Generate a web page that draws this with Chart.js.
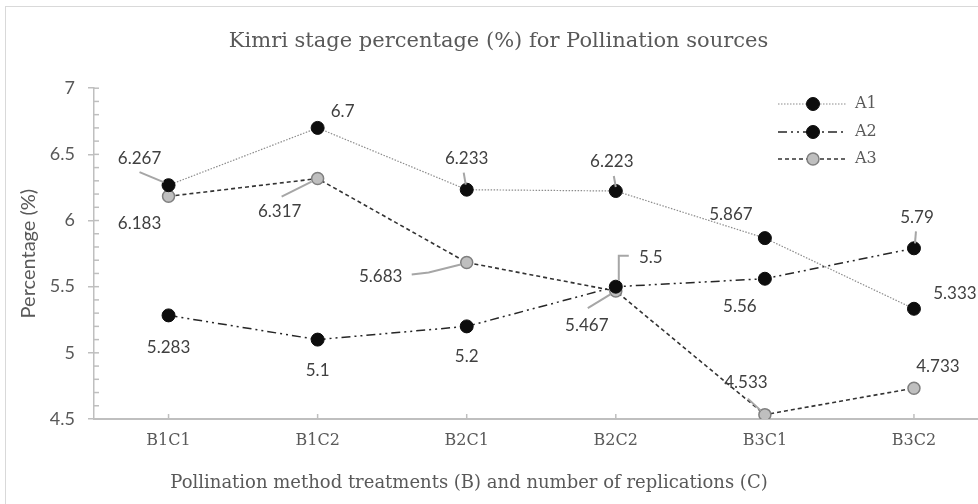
<!DOCTYPE html>
<html>
<head>
<meta charset="utf-8">
<script src="https://cdn.jsdelivr.net/npm/chart.js@4/dist/chart.umd.min.js"></script>
<style>
    html, body { margin: 0; padding: 0; background: #ffffff; overflow: hidden; }
    #box {
        position: absolute;
        left: 5px;
        top: 6px;
        width: 990px;
        height: 520px;
        border: 1px solid #d9d9d9;
    }
</style>
</head>
<body>
<div id="box"><canvas id="kimriChart" width="990" height="520"></canvas></div>
<script>
// Données
var categories = ['B1C1', 'B1C2', 'B2C1', 'B2C2', 'B3C1', 'B3C2'];
var seriesNames = ['A1', 'A2', 'A3'];
var valuesA1 = [6.267, 6.7, 6.233, 6.223, 5.867, 5.333];
var valuesA2 = [5.283, 5.1, 5.2, 5.5, 5.56, 5.79];
var valuesA3 = [6.183, 6.317, 5.683, 5.467, 4.533, 4.733];
var yTicks = [4.5, 5, 5.5, 6, 6.5, 7];

// Position des étiquettes (décalage par rapport au point) et lignes de rappel
var labelOffsets = [
    [[-29, -27], [25, -16], [0, -31], [-4, -29], [-34, -24], [41, -15]],
    [[0, 32], [0, 31], [0, 30], [35, -29], [-25, 28], [3, -31]],
    [[-29, 27], [-38, 33], [-86, 14], [-29, 34], [-19, -32], [24, -22]]
];
var leaderLines = [
    { 0: [[-29, -13], [-5, -3]], 2: [[-3, -17], [-1, -5]], 3: [[-2, -15], [0, -4]] },
    { 3: [[13, -31], [3, -31], [3, -6]], 5: [[2, -17], [1, -5]] },
    { 1: [[-36, 18], [-6, 3]], 2: [[-55, 12], [-38, 10], [-6, 2]], 3: [[-28, 17], [-5, 3]], 4: [[-17, -16], [-4, -4]] }
];

var serif = '"DejaVu Serif", serif';
var sans = 'Lato, "Liberation Sans", sans-serif';
var xTitle = 'Pollination method treatments (B) and number of replications (C)';

function isMajor(v) {
    return yTicks.some(function (t) { return Math.abs(t - v) < 1e-6; });
}

// Étiquettes de données, légende, titre de l'axe X et petites graduations
var annotatePlugin = {
    id: 'annotate',
    afterDatasetsDraw: function (chart) {
        var ctx = chart.ctx;
        var area = chart.chartArea;
        ctx.save();
        chart.data.datasets.forEach(function (ds, i) {
            var meta = chart.getDatasetMeta(i);
            meta.data.forEach(function (pt, j) {
                var line = leaderLines[i][j];
                if (line) {
                    ctx.beginPath();
                    ctx.strokeStyle = '#a6a6a6';
                    ctx.lineWidth = 2;
                    ctx.setLineDash([]);
                    line.forEach(function (p, k) {
                        if (k === 0) ctx.moveTo(pt.x + p[0], pt.y + p[1]);
                        else ctx.lineTo(pt.x + p[0], pt.y + p[1]);
                    });
                    ctx.stroke();
                }
                var off = labelOffsets[i][j];
                ctx.fillStyle = '#404040';
                ctx.font = '17px ' + sans;
                ctx.textAlign = 'center';
                ctx.textBaseline = 'middle';
                ctx.fillText(String(ds.data[j]), pt.x + off[0], pt.y + off[1]);
            });
        });

        // Légende à l'intérieur de la zone du graphique
        var rows = [97, 125, 152];
        chart.data.datasets.forEach(function (ds, i) {
            var y = rows[i];
            ctx.beginPath();
            ctx.strokeStyle = ds.borderColor;
            ctx.lineWidth = ds.borderWidth;
            ctx.setLineDash(ds.borderDash);
            ctx.moveTo(772, y);
            ctx.lineTo(840, y);
            ctx.stroke();
            ctx.setLineDash([]);
            ctx.beginPath();
            ctx.arc(807, y, ds.pointRadius, 0, Math.PI * 2);
            ctx.fillStyle = ds.pointBackgroundColor;
            ctx.fill();
            ctx.lineWidth = ds.pointBorderWidth;
            ctx.strokeStyle = ds.pointBorderColor;
            ctx.stroke();
            ctx.fillStyle = '#595959';
            ctx.font = '16px ' + serif;
            ctx.textAlign = 'left';
            ctx.textBaseline = 'middle';
            ctx.fillText(ds.label, 849, y);
        });

        // Titre de l'axe X (décalé vers la gauche comme dans l'original)
        ctx.fillStyle = '#595959';
        ctx.font = '18px ' + serif;
        ctx.textAlign = 'center';
        ctx.textBaseline = 'middle';
        ctx.fillText(xTitle, 463, 476);

        // Graduations vers le haut sur l'axe X
        var xs = chart.scales.x;
        ctx.strokeStyle = '#bfbfbf';
        ctx.lineWidth = 1.5;
        categories.forEach(function (c, j) {
            var x = xs.getPixelForValue(j);
            ctx.beginPath();
            ctx.moveTo(x, area.bottom);
            ctx.lineTo(x, area.bottom - 5);
            ctx.stroke();
        });

        // Graduations secondaires (0.1) vers l'intérieur sur l'axe Y
        var ys = chart.scales.y;
        ys.ticks.forEach(function (t) {
            var y = ys.getPixelForValue(t.value);
            ctx.beginPath();
            ctx.moveTo(area.left, y);
            ctx.lineTo(area.left + 5, y);
            ctx.stroke();
        });
        ctx.restore();
    }
};

var ctx = document.getElementById('kimriChart').getContext('2d');
window.myChart = new Chart(ctx, {
    type: 'line',
    data: {
        labels: categories,
        datasets: [{
            label: seriesNames[0],
            data: valuesA1,
            borderColor: '#8c8c8c',
            borderWidth: 1.2,
            borderDash: [1.5, 1.5],
            pointRadius: 6.5,
            pointBackgroundColor: '#0d0d0d',
            pointBorderColor: '#0d0d0d',
            pointBorderWidth: 1
        }, {
            label: seriesNames[1],
            data: valuesA2,
            borderColor: '#262626',
            borderWidth: 1.5,
            borderDash: [9, 4, 2, 4, 2, 4],
            pointRadius: 6.5,
            pointBackgroundColor: '#0d0d0d',
            pointBorderColor: '#0d0d0d',
            pointBorderWidth: 1
        }, {
            label: seriesNames[2],
            data: valuesA3,
            borderColor: '#333333',
            borderWidth: 1.6,
            borderDash: [4, 3],
            pointRadius: 6,
            pointBackgroundColor: '#bfbfbf',
            pointBorderColor: '#7f7f7f',
            pointBorderWidth: 1.5
        }]
    },
    options: {
        responsive: false,
        animation: false,
        tension: 0,
        layout: { padding: { left: 0, right: 5, top: 0, bottom: 0 } },
        plugins: {
            legend: { display: false },
            tooltip: { enabled: false },
            title: {
                display: true,
                text: 'Kimri stage percentage (%) for Pollination sources',
                color: '#595959',
                font: { family: serif, size: 21, weight: 'normal' },
                padding: { top: 22, bottom: 34 }
            }
        },
        scales: {
            x: {
                offset: true,
                grid: { display: true, drawOnChartArea: false, drawTicks: false, offset: false },
                border: { color: '#bfbfbf', width: 2 },
                ticks: { color: '#595959', font: { family: serif, size: 16 }, padding: 12, maxRotation: 0 },
                afterFit: function (scale) { scale.height = 108; }
            },
            y: {
                min: 4.5,
                max: 7,
                grid: {
                    drawOnChartArea: false,
                    drawTicks: true,
                    tickLength: 6,
                    lineWidth: 1.5,
                    tickColor: function (c) { return isMajor(c.tick.value) ? '#bfbfbf' : 'rgba(0,0,0,0)'; }
                },
                border: { color: '#bfbfbf', width: 1.5 },
                ticks: {
                    stepSize: 0.1,
                    autoSkip: false,
                    color: '#595959',
                    font: { family: sans, size: 18 },
                    padding: 13,
                    callback: function (v) { return isMajor(v) ? String(Math.round(v * 10) / 10) : ''; }
                },
                title: {
                    display: true,
                    text: 'Percentage (%)',
                    color: '#595959',
                    font: { family: sans, size: 20 },
                    padding: { top: 11, bottom: 0 }
                },
                afterFit: function (scale) { scale.width = 88; }
            }
        }
    },
    plugins: [annotatePlugin]
});
</script>
</body>
</html>
